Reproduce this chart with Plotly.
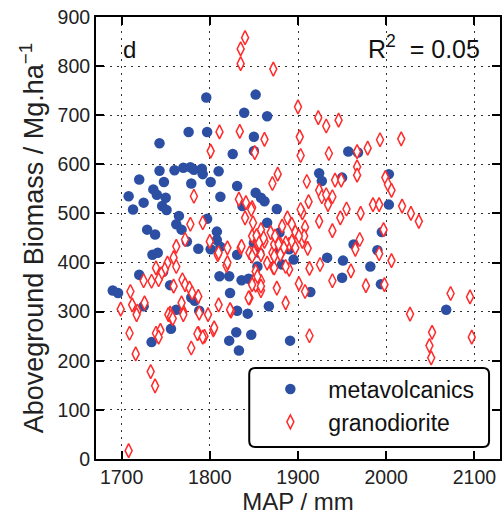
import plotly.graph_objects as go

# ---- data ----
meta_map = [1796, 1852, 1839, 1865, 1776, 1797, 1743, 1850, 1826, 1850, 1957, 1968,
            1743, 1760, 1770, 1778, 1782, 1791, 1792, 1810, 1720, 1748, 1779, 1801,
            1831, 1736, 1740, 1708, 1725, 1750, 1812, 1746, 1751, 1713, 1852, 1858,
            1862, 1876, 1837, 1765, 1865, 1729, 1738, 1762, 1768, 1797, 1808, 1808,
            1774, 1787, 1801, 1812, 1735, 1741, 1720, 1747, 1755, 1690, 1696, 1811,
            1822, 1836, 1844, 1823, 1779, 1783, 1725, 1762, 1788, 1831, 1843, 1867,
            1756, 1734, 1822, 1830, 1847, 1833, 1891, 1879, 1886, 1856, 1875, 1895,
            1882, 1854, 1848, 1924, 1927, 1950, 2003, 2003, 1995, 1963, 1990, 1933,
            1951, 1982, 1950, 1994, 1914, 2068, 1890, 1850, 1831]
meta_agb = [736, 742, 705, 698, 666, 666, 643, 656, 621, 627, 626, 624,
            587, 588, 593, 594, 589, 591, 580, 586, 569, 564, 561, 564,
            556, 549, 538, 535, 522, 532, 534, 515, 507, 508, 542, 532,
            525, 509, 515, 495, 481, 467, 457, 478, 467, 489, 463, 446,
            443, 428, 427, 432, 416, 420, 375, 381, 354, 343, 338, 372,
            372, 364, 367, 338, 329, 322, 311, 304, 302, 302, 296, 311,
            265, 238, 241, 258, 253, 221, 241, 461, 433, 420, 423, 406,
            396, 392, 365, 582, 566, 573, 580, 518, 462, 437, 425, 410,
            404, 392, 369, 356, 340, 304, 427, 440, 416]

gran_map = [1840, 1835, 1835, 1872, 1900, 1902, 1903, 1811, 1834, 1801, 1851, 1862,
            1923, 1932, 1946, 1935, 1967, 1979, 1993, 2017, 1967, 1967,
            1999, 2002, 2006, 1910, 1942, 1949,
            1924, 1927, 1932, 1939, 1934, 1912, 1905, 1955, 1948, 1971, 1985, 1992,
            2018, 2028, 2037, 1924, 1908, 1893, 1897, 1939, 1905, 1911, 1970, 1965,
            1997, 1992, 2006, 1913, 1925, 1960, 1939, 1977, 1998, 1901, 1908, 2073,
            2095, 2027,
            1913, 2052, 2049, 2051, 2097,
            1886, 1876, 1890, 1872, 1858, 1845, 1852, 1858, 1852, 1858, 1845, 1871,
            1882, 1885, 1890,
            1877, 1871, 1903, 1848, 1869, 1858, 1848, 1862, 1893, 1897, 1873, 1880,
            1888, 1882, 1907,
            1782, 1833, 1841, 1847, 1840, 1849, 1792, 1778, 1772, 1800, 1762,
            1809, 1820, 1819, 1835, 1850, 1854, 1848, 1852, 1854, 1858, 1848, 1844,
            1824, 1810, 1798, 1788, 1770, 1755, 1718, 1699, 1710, 1726,
            1759, 1752, 1749, 1745, 1742, 1734, 1725, 1739, 1762, 1769, 1772, 1759,
            1777, 1780, 1787, 1712, 1717, 1768, 1770, 1753, 1787, 1794, 1804, 1709,
            1739, 1744, 1742, 1779, 1716, 1823, 1820, 1810, 1836,
            1708, 1733, 1738, 1756, 1758, 1805, 1786, 1792,
            1865, 1873, 1886, 1874, 1878, 1886, 1884, 1880, 1873, 1901, 1853, 1856, 1861]
gran_agb = [858, 835, 805, 794, 717, 656, 618, 666, 667, 627, 624, 651,
            695, 678, 690, 622, 626, 633, 650, 652, 595, 578,
            573, 559, 547, 565, 568, 568,
            547, 534, 538, 534, 518, 524, 501, 509, 491, 500, 518, 518,
            515, 500, 484, 484, 472, 478, 462, 465, 443, 429, 447, 427,
            467, 418, 404, 388, 396, 383, 363, 353, 355, 357, 341, 337,
            330, 295,
            251, 258, 231, 206, 248,
            318, 348, 386, 390, 416, 420, 369, 362, 354, 343, 328, 420,
            423, 433, 437,
            580, 561, 508, 512, 461, 467, 454, 443, 443, 430, 437, 437,
            491, 474, 454,
            535, 529, 522, 508, 491, 481, 481, 478, 447, 443, 433,
            416, 430, 394, 430, 420, 440, 413, 382, 372, 352, 355, 328,
            301, 314, 294, 297, 300, 297, 301, 305, 341, 318,
            410, 399, 386, 377, 365, 362, 363, 389, 392, 365, 355, 352,
            348, 338, 331, 314, 294, 318, 294, 294, 256, 250, 263, 256,
            256, 262, 248, 226, 214, 304, 400, 420, 433,
            17, 178, 149, 290, 286, 267, 255, 248,
            399, 389, 392, 454, 437, 440, 430, 416, 413, 454, 455, 440, 450]

x_ticks = [1700, 1800, 1900, 2000, 2100]
y_ticks = [0, 100, 200, 300, 400, 500, 600, 700, 800, 900]
series_names = ["metavolcanics", "granodiorite"]
panel_label = "d"
r2_text = "R<sup>2</sup>  = 0.05"

FONT = "Liberation Sans, Arial, Helvetica, sans-serif"
BLUE = "#2c4fa3"
RED = "#ff2b2b"

fig = go.Figure()
fig.add_trace(go.Scatter(
    x=meta_map, y=meta_agb, mode="markers", name=series_names[0],
    marker=dict(symbol="circle", size=10.5, color=BLUE, line=dict(width=0)),
))
fig.add_trace(go.Scatter(
    x=gran_map, y=gran_agb, mode="markers", name=series_names[1],
    marker=dict(symbol="diamond-tall", size=10, color="white",
                line=dict(width=1.5, color=RED)),
))

axis_common = dict(
    showline=True, linecolor="black", linewidth=2, mirror="ticks",
    ticks="inside", ticklen=8, tickwidth=1.5, tickcolor="black",
    showgrid=True, gridcolor="#333333", gridwidth=1.2, griddash="2px,5px",
    zeroline=False, tickfont=dict(family=FONT, size=19.5, color="#222"),
)

fig.update_xaxes(range=[1671, 2129], tickvals=x_ticks,
                 title=dict(text="MAP / mm", font=dict(family=FONT, size=24, color="#222"),
                            standoff=6),
                 **axis_common)
fig.update_yaxes(range=[0, 900], tickvals=y_ticks,
                 title=dict(text="Aboveground Biomass / Mg.ha<sup>\u22121</sup>",
                            font=dict(family=FONT, size=27, color="#222"), standoff=6),
                 **axis_common)

# rounded legend frame (paper coordinates)
x0, x1 = 0.3793, 0.9729
y0, y1 = 0.0271, 0.2059
rx, ry = 6 / 406, 6 / 442
path = (f"M {x0+rx},{y0} L {x1-rx},{y0} Q {x1},{y0} {x1},{y0+ry} "
        f"L {x1},{y1-ry} Q {x1},{y1} {x1-rx},{y1} L {x0+rx},{y1} "
        f"Q {x0},{y1} {x0},{y1-ry} L {x0},{y0+ry} Q {x0},{y0} {x0+rx},{y0} Z")
fig.add_shape(type="path", path=path, xref="paper", yref="paper",
              line=dict(color="black", width=2), fillcolor="white", layer="above")

fig.add_annotation(text=panel_label, xref="paper", yref="paper",
                   x=(121 - 96) / 406, y=(459 - 50) / 442, xanchor="left", yanchor="middle",
                   showarrow=False, font=dict(family=FONT, size=24, color="#111"))
fig.add_annotation(text=r2_text, xref="paper", yref="paper",
                   x=(484 - 96) / 406, y=(459 - 47) / 442, xanchor="right", yanchor="middle",
                   showarrow=False, font=dict(family=FONT, size=25, color="#111"))

fig.update_layout(
    width=502, height=522,
    margin=dict(l=96, r=0, t=17, b=63),
    plot_bgcolor="white", paper_bgcolor="white",
    showlegend=True,
    legend=dict(x=0.387, y=0.207, xanchor="left", yanchor="top",
                bgcolor="rgba(0,0,0,0)", borderwidth=0,
                font=dict(family=FONT, size=23, color="#111"),
                itemwidth=66, tracegroupgap=0),
)

fig.write_html("out.html")
